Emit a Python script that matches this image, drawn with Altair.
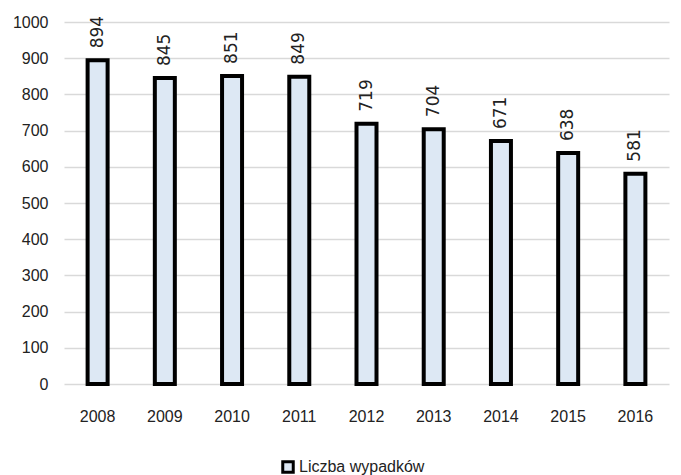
import altair as alt
import pandas as pd

years = ["2008", "2009", "2010", "2011", "2012", "2013", "2014", "2015", "2016"]
values = [894, 845, 851, 849, 719, 704, 671, 638, 581]
series = "Liczba wypadków"
ticks = [0, 100, 200, 300, 400, 500, 600, 700, 800, 900, 1000]

df = pd.DataFrame({"rok": years, "wartosc": values, "seria": [series] * len(years)})

AXFONT = "Liberation Sans"

xaxis = alt.Axis(labelAngle=0, labelFont=AXFONT, labelFontSize=16,
                 labelColor="#222", ticks=False, domain=False, labelPadding=24)
yaxis = alt.Axis(tickCount=10, format="d", labelOverlap=False,
                 labelFont=AXFONT, labelFontSize=16,
                 labelColor="#222", ticks=False, domain=False, labelPadding=16,
                 gridColor="#d9d9d9", gridWidth=1.5)
xscale = alt.Scale(paddingInner=0.67, paddingOuter=0.335)
yscale = alt.Scale(domain=[0, 1000], nice=False)

base = alt.Chart(df)

bars = base.mark_bar(stroke="black", strokeWidth=4, size=20).encode(
    x=alt.X("rok:N", title=None, sort=years, scale=xscale, axis=xaxis),
    y=alt.Y("wartosc:Q", title=None, scale=yscale, axis=yaxis),
    fill=alt.Fill("seria:N", scale=alt.Scale(range=["#dde8f4"]),
                  legend=alt.Legend(title=None, orient="none", legendX=216, legendY=437,
                                    symbolType="square", symbolSize=110, symbolStrokeWidth=3,
                                    symbolStrokeColor="black", labelOffset=3,
                                    labelFont=AXFONT, labelFontSize=16, labelColor="#222")),
)

labels = base.mark_text(angle=270, align="left", baseline="middle", dx=12,
                        font="DejaVu Sans", fontSize=17, color="#222").encode(
    x=alt.X("rok:N", title=None, sort=years, scale=xscale, axis=xaxis),
    y=alt.Y("wartosc:Q", title=None, scale=yscale, axis=yaxis),
    text="wartosc:Q",
)

chart = (bars + labels).properties(
    width=605, height=362,
    autosize=alt.AutoSizeParams(type="none"),
    padding={"left": 64, "top": 22, "right": 12, "bottom": 91},
).configure_view(stroke=None).configure_axisY(tickCount=10, values=ticks)

chart.save("out.html", embed_options={"renderer": "svg", "actions": False})
